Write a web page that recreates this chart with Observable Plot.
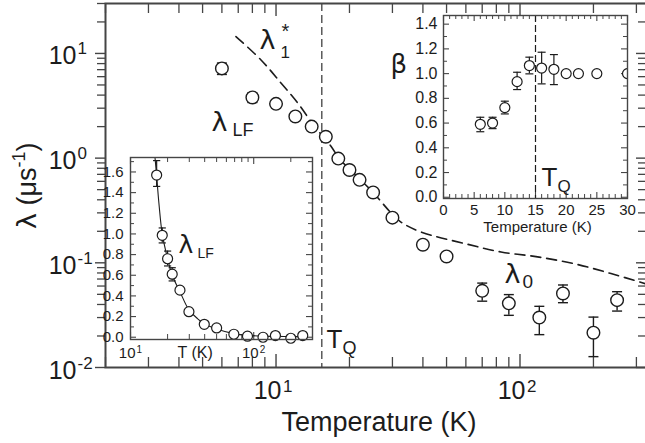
<!DOCTYPE html>
<html>
<head>
<meta charset="utf-8">
<script src="https://cdn.jsdelivr.net/npm/d3@7"></script>
<script src="https://cdn.jsdelivr.net/npm/@observablehq/plot@0.6"></script>
<style>
  html, body { margin: 0; padding: 0; background: #fff; overflow: hidden; }
  #fig { position: relative; width: 646px; height: 443px; overflow: hidden; }
  #fig svg { position: absolute; overflow: visible; }
</style>
</head>
<body>
<div id="fig"></div>
<script>
// ---- Main panel: relaxation rate λ vs temperature (log–log) ----
const mainTemp   = [6, 8, 10, 12, 14, 16, 18, 20, 22, 25, 30, 40, 50, 70, 90, 120, 150, 200, 250];
const mainLambda = [7.2, 3.8, 3.3, 2.5, 2.0, 1.6, 0.99, 0.77, 0.62, 0.47, 0.27, 0.149, 0.115, 0.054, 0.041, 0.030, 0.051, 0.0215, 0.044];
const mainErrTemp = [6, 8, 70, 90, 120, 150, 200, 250];
const mainErrLo   = [6.3, 3.4, 0.043, 0.0315, 0.0206, 0.0416, 0.0127, 0.0346];
const mainErrHi   = [8.1, 4.2, 0.064, 0.0497, 0.0384, 0.0614, 0.0303, 0.053];
// λ1* model curve
const modelTemp   = [6.85, 8.68, 10.5, 12.3, 14.4, 16.8, 18.2, 20.2, 22.2, 25, 29.6, 32.5, 39.3, 59.2, 83.6, 118, 167, 236, 328];
const modelLambda = [14.5, 8.67, 5.19, 3.34, 2.0, 1.3, 0.98, 0.77, 0.62, 0.47, 0.30, 0.245, 0.197, 0.153, 0.127, 0.114, 0.098, 0.079, 0.063];
const tQMain = 15.4;
const mainXMajor = [10, 100];
const mainXMajorExp = ["1", "2"];
const mainXMinor = [2, 3, 4, 5, 6, 7, 8, 9, 20, 30, 40, 50, 60, 70, 80, 90, 200, 300];
const mainYMajor = [0.01, 0.1, 1, 10];
const mainYMajorExp = ["-2", "-1", "0", "1"];
const mainYMinor = [0.02, 0.03, 0.04, 0.05, 0.06, 0.07, 0.08, 0.09, 0.2, 0.3, 0.4, 0.5, 0.6, 0.7, 0.8, 0.9, 2, 3, 4, 5, 6, 7, 8, 9, 20, 30];

// ---- Lower-left inset: λ_LF on a linear scale ----
const lfTemp   = [16.3, 18.1, 20, 21.8, 25.2, 29.8, 39.7, 50, 69, 89, 119, 150, 200, 250];
const lfLambda = [1.57, 0.987, 0.76, 0.61, 0.456, 0.247, 0.125, 0.09, 0.029, 0.01, 0.0, 0.016, -0.01, 0.016];
const lfErrTemp = [16.3, 18.1, 20, 21.8];
const lfErrLo   = [1.46, 0.913, 0.69, 0.545];
const lfErrHi   = [1.71, 1.058, 0.834, 0.673];
const lfFitTemp   = [15.7, 16.3, 17, 18.1, 20, 21.8, 25.2, 29.8, 35, 39.7, 50, 69, 89, 119, 150, 200, 260];
const lfFitLambda = [1.78, 1.56, 1.3, 1.0, 0.76, 0.6, 0.44, 0.265, 0.18, 0.13, 0.08, 0.035, 0.018, 0.01, 0.008, 0.006, 0.005];
const lfXMajor = [10, 100];
const lfXMajorExp = ["1", "2"];
const lfXMinor = [20, 30, 40, 50, 60, 70, 80, 90, 200, 300];
const lfYTicks = [0, 0.2, 0.4, 0.6, 0.8, 1.0, 1.2, 1.4, 1.6];
const lfYMinor = [0.1, 0.3, 0.5, 0.7, 0.9, 1.1, 1.3, 1.5, 1.7];

// ---- Upper-right inset: stretching exponent β ----
const betaTemp  = [6, 8, 10, 12, 14, 16, 18, 20, 22, 25, 30];
const betaValue = [0.59, 0.60, 0.725, 0.935, 1.065, 1.045, 1.035, 1.0, 1.0, 1.0, 1.0];
const betaErrTemp = [6, 8, 10, 12, 14, 16, 18];
const betaErrLo   = [0.53, 0.555, 0.674, 0.871, 0.998, 0.917, 0.911];
const betaErrHi   = [0.647, 0.647, 0.777, 1.011, 1.133, 1.173, 1.154];
const tQInset = 15;
const betaXTicks = [0, 5, 10, 15, 20, 25, 30];
const betaXMinor = d3.range(0, 31).filter(t => t % 5 !== 0);
const betaYTicks = [0, 0.2, 0.4, 0.6, 0.8, 1.0, 1.2, 1.4];
const betaYMinor = [0.1, 0.3, 0.5, 0.7, 0.9, 1.1, 1.3];

// ---- shared styling ----
const FONT = '"Liberation Sans", Arial, Helvetica, sans-serif';
const GREEK = '"DejaVu Sans", "Liberation Sans", sans-serif';
const INK = "#1c1c1c";
const AXIS = "#454545";

const rows = (xs, ys) => xs.map((x, i) => ({x, y: ys[i]}));
const errRows = (xs, lo, hi) => xs.map((x, i) => ({x, lo: lo[i], hi: hi[i]}));

// horizontal cap for error bars
const capSymbol = {
  draw(context, size) {
    const w = Math.sqrt(size / Math.PI);
    context.moveTo(-w, 0);
    context.lineTo(w, 0);
  }
};

function errorBars(data, r, sw, clip = false) {
  return [
    Plot.ruleX(data, {x: "x", y1: "lo", y2: "hi", stroke: INK, strokeWidth: sw, clip}),
    Plot.dot(data, {x: "x", y: "lo", symbol: capSymbol, r, stroke: INK, fill: "none", strokeWidth: sw, clip}),
    Plot.dot(data, {x: "x", y: "hi", symbol: capSymbol, r, stroke: INK, fill: "none", strokeWidth: sw, clip})
  ];
}

// ticks drawn inside the frame along top and bottom
function ticksTB(values, plotH, len, sw) {
  return [
    Plot.ruleX(values, {x: d => d, insetTop: plotH - len, stroke: AXIS, strokeWidth: sw}),
    Plot.ruleX(values, {x: d => d, insetBottom: plotH - len, stroke: AXIS, strokeWidth: sw})
  ];
}
// ticks along left and right; left ones may point outward
function ticksLR(values, plotW, len, sw, leftOutward) {
  return [
    Plot.ruleY(values, {y: d => d, insetRight: plotW - len, dx: leftOutward ? -len : 0, stroke: AXIS, strokeWidth: sw}),
    Plot.ruleY(values, {y: d => d, insetLeft: plotW - len, stroke: AXIS, strokeWidth: sw})
  ];
}
// free text: x = left edge, y = baseline, in the svg's own pixel space
function note(str, x, y, size, m, extra = {}) {
  return Plot.text([str], {
    frameAnchor: "top-left", dx: x - m.left, dy: y - m.top, text: d => d,
    textAnchor: "start", lineAnchor: "bottom", fontSize: size, fill: INK, fontFamily: FONT, ...extra
  });
}
const greek = {fontFamily: GREEK};

const svgStyle = {background: "transparent", maxWidth: "none", overflow: "visible", fontFamily: FONT};
const fig = document.getElementById("fig");

// ================= main panel =================
{
  const W = 646, H = 443;
  const m = {left: 105, top: 3, right: 0, bottom: 76};
  const plotW = W - m.left - m.right, plotH = H - m.top - m.bottom;
  const data = rows(mainTemp, mainLambda);
  const model = rows(modelTemp, modelLambda);
  const errs = errRows(mainErrTemp, mainErrLo, mainErrHi);

  const svg = Plot.plot({
    width: W, height: H,
    marginLeft: m.left, marginTop: m.top, marginRight: m.right, marginBottom: m.bottom,
    x: {type: "log", domain: [2, 330], axis: null},
    y: {type: "log", domain: [0.01, 30], axis: null},
    style: svgStyle,
    marks: [
      ...ticksTB(mainXMajor, plotH, 13, 1.4),
      ...ticksTB(mainXMinor, plotH, 10, 1.3),
      ...ticksLR(mainYMajor, plotW, 10, 1.4, true),
      ...ticksLR(mainYMinor, plotW, 8, 1.3, true),
      Plot.ruleX([tQMain], {x: d => d, stroke: "#5a5a5a", strokeWidth: 1.5, strokeDasharray: "8,4"}),
      Plot.line(model, {x: "x", y: "y", curve: "catmull-rom", stroke: INK, strokeWidth: 1.6, strokeDasharray: "10,6"}),
      ...errorBars(errs, 5, 1.4),
      Plot.dot(data, {x: "x", y: "y", r: 6.3, fill: "white", stroke: INK, strokeWidth: 1.4}),
      Plot.frame({stroke: AXIS, strokeWidth: 2}),
      // tick labels 10^n
      Plot.text(mainXMajor, {x: d => d, frameAnchor: "bottom", text: () => "10", dx: 5.5, dy: 31,
        textAnchor: "end", lineAnchor: "bottom", fontSize: 25, fill: INK, fontFamily: FONT}),
      Plot.text(mainXMajor, {x: d => d, frameAnchor: "bottom", text: (d, i) => mainXMajorExp[i], dx: 7, dy: 24,
        textAnchor: "start", lineAnchor: "bottom", fontSize: 17, fill: INK, fontFamily: FONT}),
      Plot.text(mainYMajor, {y: d => d, frameAnchor: "left", text: () => "10", dx: -29, dy: 11,
        textAnchor: "end", lineAnchor: "bottom", fontSize: 25, fill: INK, fontFamily: FONT}),
      Plot.text(mainYMajor, {y: d => d, frameAnchor: "left", text: (d, i) => mainYMajorExp[i], dx: -28, dy: 1,
        textAnchor: "start", lineAnchor: "bottom", fontSize: 17, fill: INK, fontFamily: FONT}),
      // axis title
      Plot.text(["Temperature (K)"], {frameAnchor: "bottom", dx: 3, dy: 430 - (H - m.bottom), text: d => d,
        textAnchor: "middle", lineAnchor: "bottom", fontSize: 27, fill: INK, fontFamily: FONT}),
      // curve and data labels
      note("λ", 259, 48, 27, m, greek),
      note("*", 281, 37, 20, m),
      note("1", 280, 57, 17, m),
      note("λ", 211, 130, 27, m, greek),
      note("LF", 232, 135, 18, m),
      note("λ", 504, 282, 27, m, greek),
      note("0", 522, 287, 19, m),
      note("T", 326, 347, 26, m),
      note("Q", 342, 353, 18, m)
    ]
  });
  svg.style.left = "0px";
  svg.style.top = "0px";
  // rotated y title with a superscript; it starts at the bottom and runs upward
  const t = d3.select(svg).append("text")
    .attr("transform", "translate(36,229) rotate(-90)")
    .attr("text-anchor", "start")
    .attr("font-family", FONT).attr("font-size", 27).attr("fill", INK);
  t.append("tspan").attr("font-family", GREEK).text("λ");
  t.append("tspan").text(" (μs");
  t.append("tspan").attr("font-size", 18).attr("dy", -11).text("-1");
  t.append("tspan").attr("dy", 11).text(")");
  fig.appendChild(svg);
}

// ================= inset: λ_LF (linear) =================
{
  const left = 95, top = 148, W = 220, H = 213;
  const m = {left: 35, top: 9, right: 3, bottom: 22};
  const plotW = W - m.left - m.right, plotH = H - m.top - m.bottom;
  const svg = Plot.plot({
    width: W, height: H,
    marginLeft: m.left, marginTop: m.top, marginRight: m.right, marginBottom: m.bottom,
    x: {type: "log", domain: [10, 300], axis: null},
    y: {domain: [-0.022, 1.74], axis: null},
    style: svgStyle,
    marks: [
      Plot.frame({fill: "white", stroke: "none"}),
      ...ticksTB(lfXMajor, plotH, 7, 1.1),
      ...ticksTB(lfXMinor, plotH, 5, 1.0),
      ...ticksLR(lfYTicks, plotW, 6, 1.1, false),
      ...ticksLR(lfYMinor, plotW, 4, 1.0, false),
      Plot.line(rows(lfFitTemp, lfFitLambda), {x: "x", y: "y", curve: "catmull-rom", stroke: INK, strokeWidth: 1.1, clip: true}),
      ...errorBars(errRows(lfErrTemp, lfErrLo, lfErrHi), 3.6, 1.2, true),
      Plot.dot(rows(lfTemp, lfLambda), {x: "x", y: "y", r: 5, fill: "white", stroke: INK, strokeWidth: 1.2}),
      Plot.frame({stroke: AXIS, strokeWidth: 1.4}),
      Plot.text(lfYTicks, {y: d => d, frameAnchor: "left", text: d => d.toFixed(1), dx: -7,
        textAnchor: "end", fontSize: 15, fill: INK, fontFamily: FONT}),
      Plot.text(lfXMajor, {x: d => d, frameAnchor: "bottom", text: () => "10", dx: 5, dy: 357 - (top + H - m.bottom),
        textAnchor: "end", lineAnchor: "bottom", fontSize: 15, fill: INK, fontFamily: FONT}),
      Plot.text(lfXMajor, {x: d => d, frameAnchor: "bottom", text: (d, i) => lfXMajorExp[i], dx: 6, dy: 352 - (top + H - m.bottom),
        textAnchor: "start", lineAnchor: "bottom", fontSize: 10, fill: INK, fontFamily: FONT}),
      note("T (K)", 177 - left, 357 - top, 16, m),
      note("λ", 178 - left, 252 - top, 25, m, greek),
      note("LF", 197 - left, 257 - top, 14, m)
    ]
  });
  svg.style.left = left + "px";
  svg.style.top = top + "px";
  fig.appendChild(svg);
}

// ================= inset: β =================
{
  const left = 380, top = 5, W = 260, H = 230;
  const m = {left: 63, top: 10, right: 13, bottom: 37};
  const plotW = W - m.left - m.right, plotH = H - m.top - m.bottom;
  const svg = Plot.plot({
    width: W, height: H,
    marginLeft: m.left, marginTop: m.top, marginRight: m.right, marginBottom: m.bottom,
    x: {domain: [0, 30], axis: null},
    y: {domain: [-0.01, 1.47], axis: null},
    style: svgStyle,
    marks: [
      Plot.frame({fill: "white", stroke: "none"}),
      ...ticksTB(betaXTicks, plotH, 6, 1.1),
      ...ticksTB(betaXMinor, plotH, 4, 1.0),
      ...ticksLR(betaYTicks, plotW, 6, 1.1, false),
      ...ticksLR(betaYMinor, plotW, 4, 1.0, false),
      Plot.ruleX([tQInset], {x: d => d, stroke: INK, strokeWidth: 1.2, strokeDasharray: "7,3"}),
      ...errorBars(errRows(betaErrTemp, betaErrLo, betaErrHi), 4, 1.2),
      Plot.dot(rows(betaTemp, betaValue), {x: "x", y: "y", r: 5, fill: "white", stroke: INK, strokeWidth: 1.2, clip: true}),
      Plot.frame({stroke: AXIS, strokeWidth: 1.4}),
      Plot.text(betaYTicks, {y: d => d, frameAnchor: "left", text: d => d.toFixed(1), dx: -6,
        textAnchor: "end", fontSize: 16, fill: INK, fontFamily: FONT}),
      Plot.text(betaXTicks, {x: d => d, frameAnchor: "bottom", text: d => String(d), dy: 214 - (top + H - m.bottom),
        textAnchor: "middle", lineAnchor: "bottom", fontSize: 15, fill: INK, fontFamily: FONT}),
      Plot.text(["Temperature (K)"], {frameAnchor: "bottom", text: d => d, dx: 2, dy: 231 - (top + H - m.bottom),
        textAnchor: "middle", lineAnchor: "bottom", fontSize: 15, fill: INK, fontFamily: FONT}),
      note("β", 390 - left, 72 - top, 26, m, greek),
      note("T", 541 - left, 185 - top, 26, m),
      note("Q", 557 - left, 191 - top, 17, m)
    ]
  });
  svg.style.left = left + "px";
  svg.style.top = top + "px";
  fig.appendChild(svg);
}
</script>
</body>
</html>
